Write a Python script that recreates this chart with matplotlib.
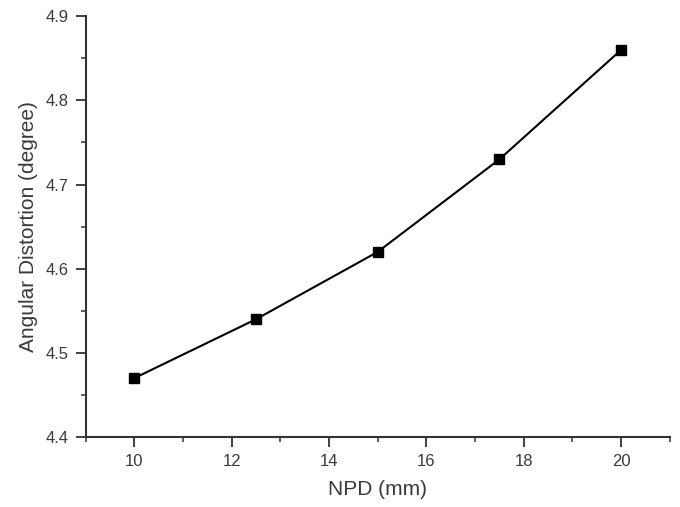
import matplotlib
matplotlib.use("Agg")
import matplotlib.pyplot as plt
from matplotlib.ticker import MultipleLocator, FormatStrFormatter

plt.rcParams['font.family'] = ['Liberation Sans', 'DejaVu Sans']

npd = [10, 12.5, 15, 17.5, 20]
distortion = [4.47, 4.54, 4.62, 4.73, 4.86]

fig = plt.figure(figsize=(6.8, 5.07), dpi=100)
ax = fig.add_axes([0.126, 0.138, 0.859, 0.830])
ax.plot(npd, distortion, color='black', lw=1.5, marker='s', ms=6.5)
ax.set_xlim(9, 21)
ax.set_ylim(4.4, 4.9)
ax.xaxis.set_major_locator(MultipleLocator(2))
ax.xaxis.set_minor_locator(MultipleLocator(1))
ax.yaxis.set_major_locator(MultipleLocator(0.1))
ax.yaxis.set_minor_locator(MultipleLocator(0.05))
ax.yaxis.set_major_formatter(FormatStrFormatter('%.1f'))
for s in ['top', 'right']:
    ax.spines[s].set_visible(False)
for s in ['left', 'bottom']:
    ax.spines[s].set_color('#333333')
    ax.spines[s].set_linewidth(1.5)
ax.tick_params(which='major', length=7, width=1.3, color='#333333',
               labelsize=12, labelcolor='#3a3a3a', pad=5)
ax.tick_params(which='minor', length=3.5, width=1.1, color='#333333')
ax.set_xlabel('NPD (mm)', fontsize=15, color='#3a3a3a', labelpad=8)
ax.set_ylabel('Angular Distortion (degree)', fontsize=15, color='#3a3a3a', labelpad=6)
fig.savefig('out.png', dpi=100)
